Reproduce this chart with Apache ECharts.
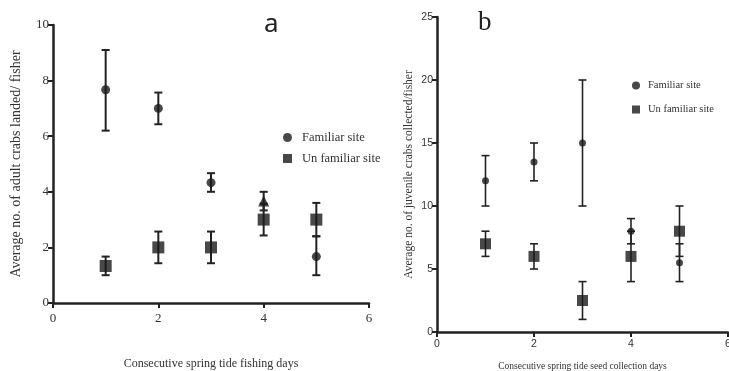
<!DOCTYPE html>
<html><head><meta charset="utf-8">
<script src="https://cdn.jsdelivr.net/npm/echarts@6/dist/echarts.min.js"></script>
<style>html,body{margin:0;padding:0;background:#fff}#c{width:729px;height:371px}</style>
</head><body><div id="c"></div>
<script>
// Panel a: adult crabs landed per fisher
const daysA = [1, 2, 3, 4, 5];
const famA = [7.67, 7.0, 4.33, 3.67, 1.67];
const famALow = [6.2, 6.43, 4.0, 3.33, 1.0];
const famAHigh = [9.1, 7.57, 4.67, 4.0, 2.4];
const unfA = [1.33, 2.0, 2.0, 3.0, 3.0];
const unfALow = [1.0, 1.43, 1.43, 2.43, 2.4];
const unfAHigh = [1.67, 2.57, 2.57, 3.57, 3.6];
// Panel b: juvenile crabs collected per fisher
const daysB = [1, 2, 3, 4, 5];
const famB = [12, 13.5, 15, 8, 5.5];
const famBLow = [10, 12, 10, 7, 4];
const famBHigh = [14, 15, 20, 9, 7];
const unfB = [7, 6, 2.5, 6, 8];
const unfBLow = [6, 5, 1, 4, 6];
const unfBHigh = [8, 7, 4, 8, 10];

const chart = echarts.init(document.getElementById('c'));
function pts(xs, ys) { return xs.map((x, i) => [x, ys[i]]); }
function errs(xs, lo, hi) { return xs.map((x, i) => [x, lo[i], hi[i]]); }
function errSeries(idx, data, cap, lw) {
  return {
    type: 'custom', xAxisIndex: idx, yAxisIndex: idx, data: data, z: 1, silent: true,
    renderItem: function (params, api) {
      const x = api.value(0);
      const lo = api.coord([x, api.value(1)]);
      const hi = api.coord([x, api.value(2)]);
      const st = { stroke: '#222', lineWidth: lw };
      return { type: 'group', children: [
        { type: 'line', shape: { x1: lo[0], y1: lo[1], x2: hi[0], y2: hi[1] }, style: st },
        { type: 'line', shape: { x1: lo[0] - cap, y1: lo[1], x2: lo[0] + cap, y2: lo[1] }, style: st },
        { type: 'line', shape: { x1: hi[0] - cap, y1: hi[1], x2: hi[0] + cap, y2: hi[1] }, style: st }
      ]};
    }
  };
}
const serif = '"Liberation Serif", "Times New Roman", serif';
const narrow = '"Liberation Sans", Arial, sans-serif';
function xAx(idx, name, font, size, nsize, gap, margin) {
  return {
    gridIndex: idx, type: 'value', min: 0, max: 6, interval: 2,
    name: name, nameLocation: 'middle', nameGap: gap,
    nameTextStyle: { fontFamily: serif, fontSize: nsize, color: '#333' },
    axisLine: { lineStyle: { color: '#222', width: 2.5 } },
    axisTick: { length: 5, lineStyle: { color: '#222', width: 2 } },
    axisLabel: { fontFamily: font, fontSize: size, color: '#333', margin: margin },
    splitLine: { show: false }
  };
}
function yAx(idx, max, intv, name, font, size, nsize, gap) {
  return {
    gridIndex: idx, type: 'value', min: 0, max: max, interval: intv,
    name: name, nameLocation: 'middle', nameGap: gap, nameRotate: 90,
    nameTextStyle: { fontFamily: serif, fontSize: nsize, color: '#333' },
    axisLine: { show: true, lineStyle: { color: '#222', width: 2.5 } },
    axisTick: { show: true, length: 5, lineStyle: { color: '#222', width: 2 } },
    axisLabel: { fontFamily: font, fontSize: size, color: '#333', margin: 4 },
    splitLine: { show: false }
  };
}
const famAData = pts(daysA, famA).map((p, i) => i === 3 ? { value: p, symbol: 'triangle', symbolSize: 11 } : p);
chart.setOption({
  animation: false,
  title: [
    { text: 'a', left: 259, top: 7, textStyle: { fontFamily: '"Noto Sans", sans-serif', fontSize: 26, fontWeight: 'normal', color: '#222' } },
    { text: 'b', left: 473, top: 4, textStyle: { fontFamily: serif, fontSize: 27, fontWeight: 'normal', color: '#222' } }
  ],
  legend: [
    { orient: 'vertical', left: 278, top: 126, itemGap: 8, itemWidth: 9, itemHeight: 9,
      textStyle: { fontFamily: serif, fontSize: 12.5, color: '#333', padding: [0, 0, 0, 5] },
      data: [{ name: 'Familiar site', icon: 'circle' }, { name: 'Un familiar site', icon: 'rect' }] },
    { orient: 'vertical', left: 627, top: 75, itemGap: 13, itemWidth: 8, itemHeight: 8,
      textStyle: { fontFamily: serif, fontSize: 10.5, color: '#333', padding: [0, 0, 0, 3] },
      data: [{ name: 'Familiar site', icon: 'circle' }, { name: 'Un familiar site', icon: 'rect' }] }
  ],
  grid: [
    { left: 53, right: 360, top: 25, bottom: 68, outerBoundsMode: 'none', containLabel: false },
    { left: 437, right: 1, top: 17, bottom: 39, outerBoundsMode: 'none', containLabel: false }
  ],
  xAxis: [
    xAx(0, 'Consecutive spring tide fishing days', serif, 13, 12, 55, 9),
    xAx(1, 'Consecutive spring tide seed collection days', narrow, 10.5, 9.5, 29, 7)
  ],
  yAxis: [
    yAx(0, 10, 2, 'Average no. of adult crabs landed/ fisher', serif, 13, 14, 30),
    yAx(1, 25, 5, 'Average no. of juvenile crabs collected/fisher', narrow, 10.5, 11.5, 22)
  ],
  series: [
    errSeries(0, errs(daysA, famALow, famAHigh), 4, 2),
    errSeries(0, errs(daysA, unfALow, unfAHigh), 4, 2),
    { name: 'Familiar site', type: 'scatter', xAxisIndex: 0, yAxisIndex: 0, symbol: 'circle', symbolSize: 9,
      itemStyle: { color: '#1a1a1a' }, data: famAData, z: 3 },
    { name: 'Un familiar site', type: 'scatter', xAxisIndex: 0, yAxisIndex: 0, symbol: 'rect', symbolSize: 12,
      itemStyle: { color: '#1a1a1a' }, data: pts(daysA, unfA), z: 3 },
    errSeries(1, errs(daysB, famBLow, famBHigh), 4, 1.6),
    errSeries(1, errs(daysB, unfBLow, unfBHigh), 4, 1.6),
    { name: 'Familiar site', type: 'scatter', xAxisIndex: 1, yAxisIndex: 1, symbol: 'circle', symbolSize: 7,
      itemStyle: { color: '#1a1a1a' }, data: pts(daysB, famB), z: 3 },
    { name: 'Un familiar site', type: 'scatter', xAxisIndex: 1, yAxisIndex: 1, symbol: 'rect', symbolSize: 11,
      itemStyle: { color: '#1a1a1a' }, data: pts(daysB, unfB), z: 3 }
  ]
});
</script></body></html>
